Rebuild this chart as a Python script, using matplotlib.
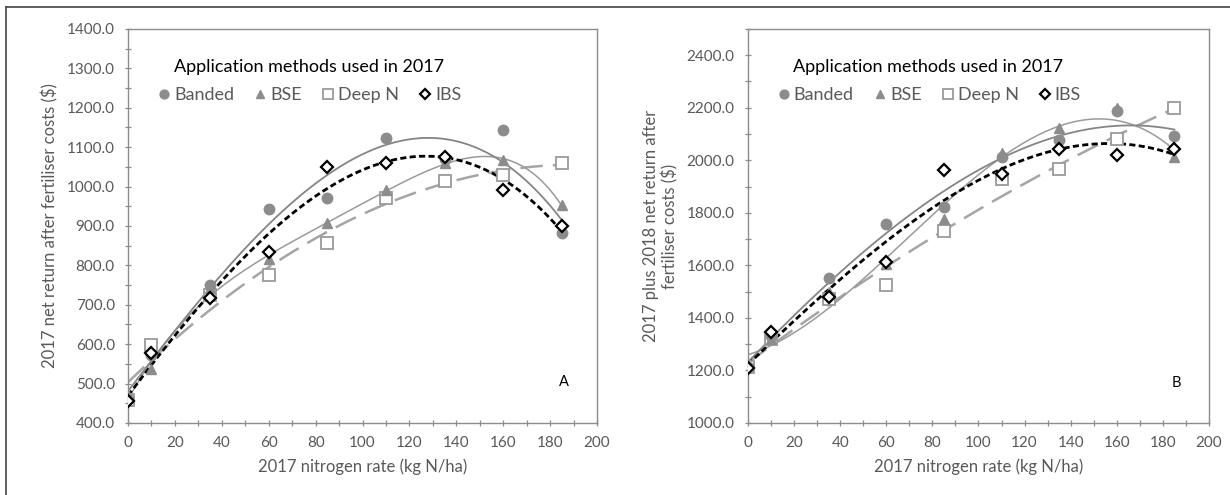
import numpy as np
import matplotlib.pyplot as plt
from matplotlib.lines import Line2D

plt.rcParams['font.family'] = ['Lato', 'DejaVu Sans']

# N rates applied in 2017 (kg N/ha)
n_rate = [0, 10, 35, 60, 85, 110, 135, 160, 185]

# Panel A: 2017 net return after fertiliser costs ($)
a_banded = [462, 572, 751, 943, 972, 1124, 1070, 1143, 882]
a_bse = [470, 537, 742, 815, 907, 992, 1059, 1068, 952]
a_deepn = [458, 599, 725, 776, 856, 971, 1015, 1030, 1061]
a_ibs = [455, 578, 717, 834, 1049, 1061, 1076, 992, 899]

# Panel B: 2017 plus 2018 net return after fertiliser costs ($)
b_banded = [1215, 1330, 1551, 1757, 1823, 2013, 2076, 2187, 2091]
b_bse = [1220, 1320, 1500, 1605, 1775, 2028, 2123, 2200, 2013]
b_deepn = [1215, 1320, 1471, 1525, 1732, 1928, 1966, 2082, 2199]
b_ibs = [1209, 1348, 1481, 1614, 1962, 1946, 2044, 2022, 2044]

methods = ['Banded', 'BSE', 'Deep N', 'IBS']
grey = '#8c8c8c'
txt = '#595959'

# marker / trendline style per method
mk = {
    'Banded': dict(marker='o', ms=7.5, mfc=grey, mec=grey),
    'BSE': dict(marker='^', ms=7, mfc=grey, mec=grey),
    'Deep N': dict(marker='s', ms=8, mfc='white', mec='#9a9a9a', mew=1.3),
    'IBS': dict(marker='D', ms=6, mfc='white', mec='black', mew=1.6),
}
ln = {
    'Banded': dict(color='#858585', lw=1.3, ls='-'),
    'BSE': dict(color='#9a9a9a', lw=1.1, ls='-'),
    'Deep N': dict(color='#a5a5a5', lw=1.8, ls=(0, (9, 4))),
    'IBS': dict(color='black', lw=2.0, ls=(0, (2.2, 1.2))),
}


def draw_panel(ax, series, degs, ylim, ystep, yminor, ylabel, tag, tag_y):
    xs = np.linspace(0, 185, 200)
    order = ['Deep N', 'BSE', 'Banded', 'IBS']
    for name in order:
        y = series[name]
        c = np.polyfit(n_rate, y, degs[name])
        ax.plot(xs, np.polyval(c, xs), zorder=2, **ln[name])
    for name in order:
        ax.plot(n_rate, series[name], ls='none', zorder=3, **mk[name])

    ax.set_xlim(0, 200)
    ax.set_ylim(*ylim)
    ax.set_xticks(np.arange(0, 201, 20))
    ax.set_xticks(np.arange(0, 201, 10), minor=True)
    ax.set_yticks(np.arange(ylim[0], ylim[1] + 1, ystep))
    ax.set_yticks(np.arange(ylim[0], ylim[1] + 1, yminor), minor=True)
    ax.yaxis.set_major_formatter(plt.FuncFormatter(lambda v, p: '%.1f' % v))
    ax.tick_params(which='both', direction='inout', length=5, width=0.9,
                   color='#8c8c8c', labelsize=11, labelcolor=txt, pad=7)
    for s in ax.spines.values():
        s.set_color('#8c8c8c')
        s.set_linewidth(1.0)
    ax.set_xlabel('2017 nitrogen rate (kg N/ha)', fontsize=12, color=txt, labelpad=6)
    ax.set_ylabel(ylabel, fontsize=12, color=txt, labelpad=6)
    ax.text(186, tag_y, tag, fontsize=10.5, color='black', ha='center', va='center')

    handles = [Line2D([], [], ls='none', **mk[m]) for m in methods]
    leg = ax.legend(handles, methods, ncol=4, loc='upper left',
                    bbox_to_anchor=(0.025, 0.965), frameon=False,
                    title='Application methods used in 2017',
                    title_fontsize=13, fontsize=13,
                    handletextpad=0.1, columnspacing=1.0, handlelength=0.9,
                    markerscale=0.85, labelspacing=0.3)
    leg._legend_box.sep = 9
    for t in leg.get_texts():
        t.set_color(txt)


fig = plt.figure(figsize=(12.3, 4.95), dpi=100)
ax1 = fig.add_axes([0.1041, 0.1455, 0.3813, 0.796])
ax2 = fig.add_axes([0.6081, 0.1455, 0.3748, 0.796])

draw_panel(ax1, dict(zip(methods, [a_banded, a_bse, a_deepn, a_ibs])),
           {'Banded': 3, 'BSE': 5, 'Deep N': 2, 'IBS': 3},
           (400, 1400), 100, 50,
           '2017 net return after fertiliser costs ($)', 'A', 505)
draw_panel(ax2, dict(zip(methods, [b_banded, b_bse, b_deepn, b_ibs])),
           {'Banded': 3, 'BSE': 3, 'Deep N': 2, 'IBS': 3},
           (1000, 2500), 200, 100,
           '2017 plus 2018 net return after\nfertiliser costs ($)', 'B', 1152)
ax2.set_yticks(np.arange(1000, 2401, 200))

# thin frame lines along top and left of the figure
fig.add_artist(Line2D([6 / 1230, 1], [1 - 7 / 495, 1 - 7 / 495],
                      transform=fig.transFigure, color='#444444', lw=1.2))
fig.add_artist(Line2D([6 / 1230, 6 / 1230], [0, 1 - 7 / 495],
                      transform=fig.transFigure, color='#444444', lw=1.2))

fig.savefig('out.png', dpi=100)
